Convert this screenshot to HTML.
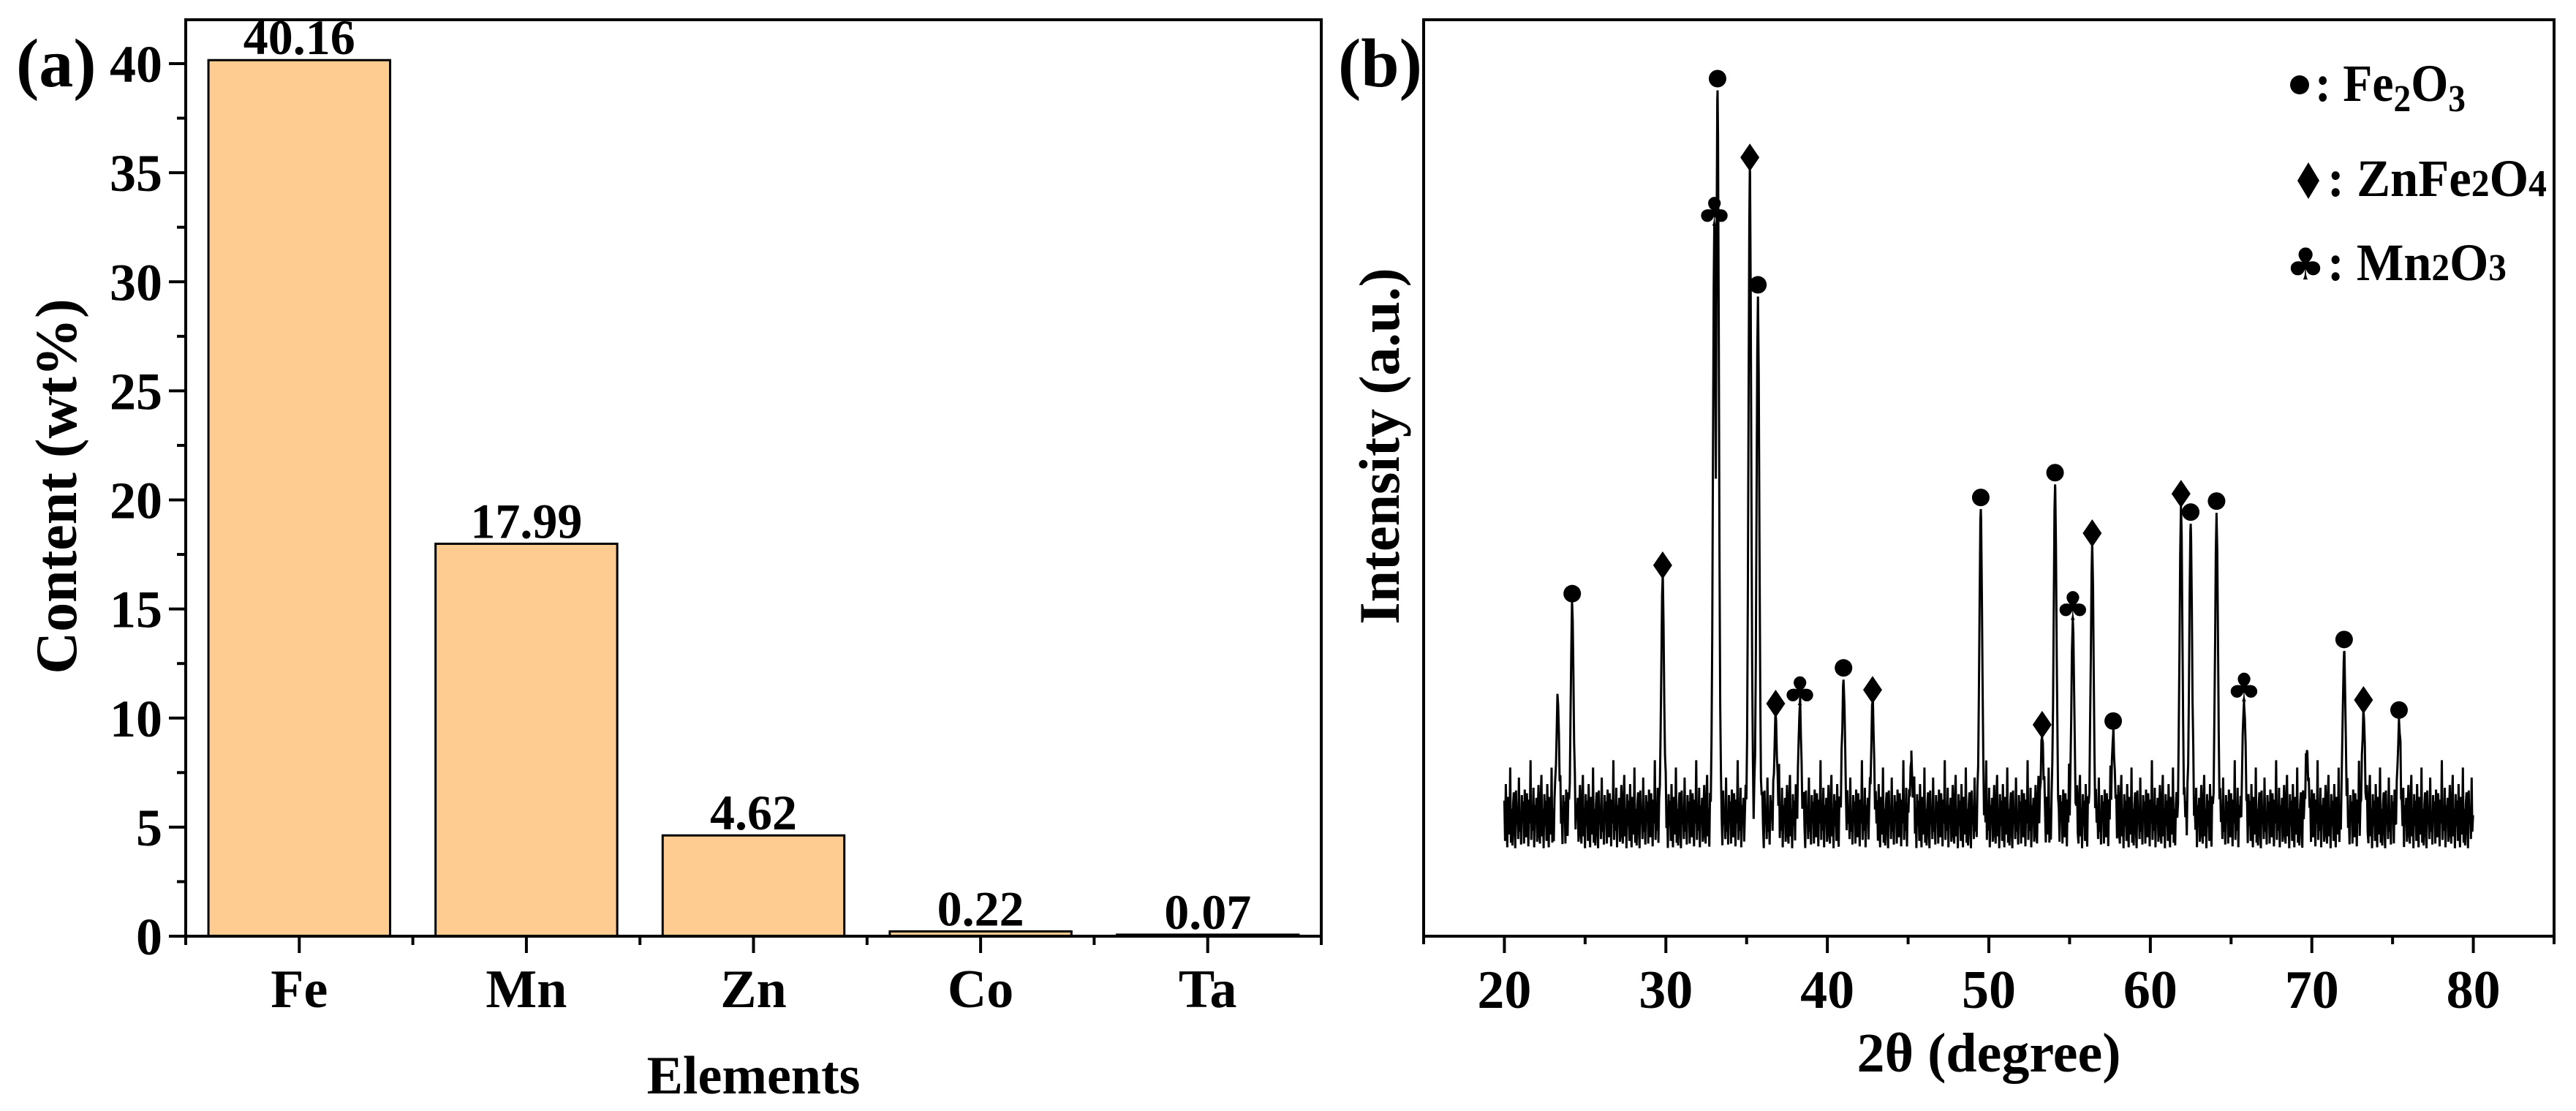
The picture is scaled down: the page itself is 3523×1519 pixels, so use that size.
<!DOCTYPE html>
<html>
<head>
<meta charset="utf-8">
<style>
html,body{margin:0;padding:0;background:#fff;}
svg{display:block;font-family:"Liberation Serif","Times New Roman",serif;font-weight:bold;}
</style>
</head>
<body>
<svg id="fig" width="3523" height="1519" viewBox="0 0 3523 1519" xmlns="http://www.w3.org/2000/svg">
  <defs><clipPath id="clipB"><rect x="1947" y="27" width="1546" height="1253"/></clipPath></defs>
  <rect x="0" y="0" width="3523" height="1519" fill="#fff"/>
  <g id="panelA"></g>
  <g id="panelB"></g>
</svg>
<script>
// ---------- Panel (a) data ----------
const categories = ["Fe", "Mn", "Zn", "Co", "Ta"];
const contents = [40.16, 17.99, 4.62, 0.22, 0.07];
const contentLabels = ["40.16", "17.99", "4.62", "0.22", "0.07"];
const yTicksA = [0, 5, 10, 15, 20, 25, 30, 35, 40];

// ---------- Panel (b) data ----------
const xTicksB = [20, 30, 40, 50, 60, 70, 80];
const peakAngles = [23.3, 24.2, 29.8, 33.0, 33.2, 35.2, 35.7, 36.8, 38.3, 41.0, 42.8, 45.2, 49.5, 53.3, 54.1, 55.2, 56.4, 57.7, 61.9, 62.5, 64.1, 65.8, 69.7, 72.0, 73.2, 75.4];
const peakTops = [26.1, 36.1, 39.2, 77.6, 92.3, 83.7, 69.8, 24.1, 25.3, 28.0, 25.6, 19.1, 46.6, 21.8, 49.3, 34.6, 42.7, 22.2, 47.0, 45.0, 46.2, 25.7, 20.3, 31.1, 24.5, 23.4];
const baselineLevel = 13.0;
const noisePattern = [1.8,-2.6,3.6,-0.4,-3.3,2.2,0.6,-1.9,5.4,-2.8,0.9,-3.1,1.4,2.7,-1.2,-3.4,2.9,-0.8,1.1,-2.4,4.3,-1.6,0.2,-3.0,2.4,-0.3,1.7,-2.9,3.0,-1.1,-2.2,2.6,0.4,-3.2,1.9,-0.7,6.2,-2.5,0.8,-1.5,3.2,-3.3,1.3,-0.2,2.1,-2.7,0.5,3.5,-1.8,-2.9,2.0,4.6,-2.1,0.9,-3.4,2.5,-1.0];
const markerAngles = [24.2, 29.8, 33.0, 33.2, 35.2, 35.7, 36.8, 38.3, 41.0, 42.8, 49.5, 53.3, 54.1, 55.2, 56.4, 57.7, 61.9, 62.5, 64.1, 65.8, 72.0, 73.2, 75.4];
const markerTops = [36.1, 39.2, 77.6, 92.3, 83.7, 69.8, 24.1, 25.3, 28.0, 25.6, 46.6, 21.8, 49.3, 34.6, 42.7, 22.2, 47.0, 45.0, 46.2, 25.7, 31.1, 24.5, 23.4];
const markerTypes = ["dot","diamond","club","dot","diamond","dot","diamond","club","dot","diamond","dot","diamond","dot","club","diamond","dot","diamond","dot","dot","club","dot","diamond","dot"];

const NS = "http://www.w3.org/2000/svg";
function mk(parent, tag, attrs, text) {
  const e = document.createElementNS(NS, tag);
  for (const k in attrs) e.setAttribute(k, attrs[k]);
  if (text !== undefined) e.textContent = text;
  parent.appendChild(e);
  return e;
}

// ================= Panel A =================
const A = document.getElementById("panelA");
const aL = 254, aR = 1807, aT = 27, aB = 1280;
const yMaxA = (aB - aT) / ((aB - 87) / 40);
function yA(v) { return aB - v / yMaxA * (aB - aT); }
function xA(i) { return aL + (i + 0.5) / categories.length * (aR - aL); }
const bandA = (aR - aL) / categories.length;

categories.forEach((c, i) => {
  const w = bandA * 0.8;
  const bar = mk(A, "rect", {x: xA(i) - w / 2, y: yA(contents[i]), width: w, height: aB - yA(contents[i]), fill: "#FECB91", stroke: "#000", "stroke-width": 3});
  
  
  const lab = mk(A, "text", {x: xA(i), y: yA(contents[i]) - 8, "font-size": 68, "text-anchor": "middle"}, contentLabels[i]);
  
  
  const tk = mk(A, "line", {x1: xA(i), x2: xA(i), y1: aB, y2: aB + 23, stroke: "#000", "stroke-width": 4});
  
  
  const tl = mk(A, "text", {x: xA(i), y: 1377, "font-size": 74, "text-anchor": "middle"}, c);
  
  
});
for (let i = 0; i <= categories.length; i++) {
  const x = aL + i * bandA;
  const mt = mk(A, "line", {x1: x, x2: x, y1: aB, y2: aB + 12, stroke: "#000", "stroke-width": 4});
  
  
}
yTicksA.forEach(v => {
  const t = mk(A, "line", {x1: aL - 23, x2: aL, y1: yA(v), y2: yA(v), stroke: "#000", "stroke-width": 4});
  
  
  const l = mk(A, "text", {x: aL - 32, y: yA(v) + 25, "font-size": 72, "text-anchor": "end"}, String(v));
  
  
  if (v + 2.5 < yMaxA) {
    const m = mk(A, "line", {x1: aL - 12, x2: aL, y1: yA(v + 2.5), y2: yA(v + 2.5), stroke: "#000", "stroke-width": 4});
    
    
  }
});
const frameA = mk(A, "rect", {x: aL, y: aT, width: aR - aL, height: aB - aT, fill: "none", stroke: "#000", "stroke-width": 4});


const yTitleA = mk(A, "text", {x: 0, y: 0, "font-size": 80, "text-anchor": "middle", transform: "translate(104 665) rotate(-90)"}, "Content (wt%)");


const xTitleA = mk(A, "text", {x: (aL + aR) / 2, y: 1495, "font-size": 74, "text-anchor": "middle"}, "Elements");


const pa = mk(A, "text", {x: 22, y: 118, "font-size": 94}, "(a)");



// ================= Panel B =================
const B = document.getElementById("panelB");
const bL = 1947, bR = 3493, bT = 27, bB = 1280;
const xMinB = 15, xMaxB = 85;
function xB(v) { return bL + (v - xMinB) / (xMaxB - xMinB) * (bR - bL); }
function yB(v) { return bB - v / 100 * (bB - bT); }

const step = 0.045;
let samples = [];
for (let a = 20, i = 0; a <= 80.0001; a += step, i++) samples.push({a: a, n: noisePattern[i % noisePattern.length]});
peakAngles.forEach(p => samples.push({a: p, n: 0}));
samples.sort((u, v) => u.a - v.a);
let pts = [];
samples.forEach(s => {
  let best = 0;
  for (let k = 0; k < peakAngles.length; k++) {
    const d = (s.a - peakAngles[k]) / 0.12;
    const v = (peakTops[k] - baselineLevel) * Math.exp(-d * d);
    if (v > best) best = v;
  }
  const w = 1 / (1 + best / 3);
  const I = baselineLevel + best + s.n * w;
  pts.push(xB(s.a).toFixed(1) + "," + yB(I).toFixed(1));
});
const line = mk(B, "polyline", {points: pts.join(" "), fill: "none", stroke: "#000", "stroke-width": 3, "stroke-linejoin": "miter", "clip-path": "url(#clipB)"});



function marker(type, cx, cy, nameSuffix) {
  let e;
  if (type === "dot") {
    e = mk(B, "circle", {cx: cx, cy: cy, r: 12, fill: "#000"});
  } else if (type === "diamond") {
    e = mk(B, "path", {d: `M${cx} ${cy - 19} L${cx + 13} ${cy} L${cx} ${cy + 19} L${cx - 13} ${cy} Z`, fill: "#000"});
  } else {
    e = mk(B, "text", {x: cx, y: cy + 17, "font-size": 54, "text-anchor": "middle", "font-family": "DejaVu Sans, sans-serif"}, "\u2663");
  }
  
  
  return e;
}
markerAngles.forEach((a, i) => {
  const cy = yB(markerTops[i]) - 16;
  marker(markerTypes[i], xB(a), cy, 'peak-marker-' + markerTypes[i]);
});

xTicksB.forEach(v => {
  const t = mk(B, "line", {x1: xB(v), x2: xB(v), y1: bB, y2: bB + 23, stroke: "#000", "stroke-width": 4});
  
  
  const l = mk(B, "text", {x: xB(v), y: 1378, "font-size": 74, "text-anchor": "middle"}, String(v));
  
  
});
for (let v = 15; v <= 85; v += 10) {
  const m = mk(B, "line", {x1: xB(v), x2: xB(v), y1: bB, y2: bB + 11, stroke: "#000", "stroke-width": 4});
  
  
}
const frameB = mk(B, "rect", {x: bL, y: bT, width: bR - bL, height: bB - bT, fill: "none", stroke: "#000", "stroke-width": 4});



const xTitleB = mk(B, "text", {x: (bL + bR) / 2, y: 1465, "font-size": 76, "text-anchor": "middle"}, "2\u03B8 (degree)");


const yTitleB = mk(B, "text", {x: 0, y: 0, "font-size": 78, "text-anchor": "middle", transform: "translate(1913 610) rotate(-90)"}, "Intensity (a.u.)");


const pb = mk(B, "text", {x: 1830, y: 118, "font-size": 94}, "(b)");



// legend
const lg = mk(B, "g", {});


const le1 = mk(lg, "g", {});


mk(le1, "circle", {cx: 3145, cy: 116, r: 13, fill: "#000"});
const t1 = mk(le1, "text", {x: 3166, y: 138, "font-size": 72, textLength: 206, lengthAdjust: "spacingAndGlyphs"});
t1.innerHTML = ': Fe<tspan font-size="52" dy="14">2</tspan><tspan dy="-14">O</tspan><tspan font-size="52" dy="14">3</tspan>';
const le2 = mk(lg, "g", {});


mk(le2, "path", {d: "M3157 222 L3172 247 L3157 272 L3142 247 Z", fill: "#000"});
const t2 = mk(le2, "text", {x: 3183, y: 268, "font-size": 72, textLength: 300, lengthAdjust: "spacingAndGlyphs"});
t2.innerHTML = ': ZnFe<tspan font-size="52">2</tspan>O<tspan font-size="52">4</tspan>';
const le3 = mk(lg, "g", {});


mk(le3, "text", {x: 3153, y: 382, "font-size": 60, "text-anchor": "middle", "font-family": "DejaVu Sans, sans-serif"}, "\u2663");
const t3 = mk(le3, "text", {x: 3183, y: 383, "font-size": 72, textLength: 245, lengthAdjust: "spacingAndGlyphs"});
t3.innerHTML = ': Mn<tspan font-size="52">2</tspan>O<tspan font-size="52">3</tspan>';
</script>
</body>
</html>
